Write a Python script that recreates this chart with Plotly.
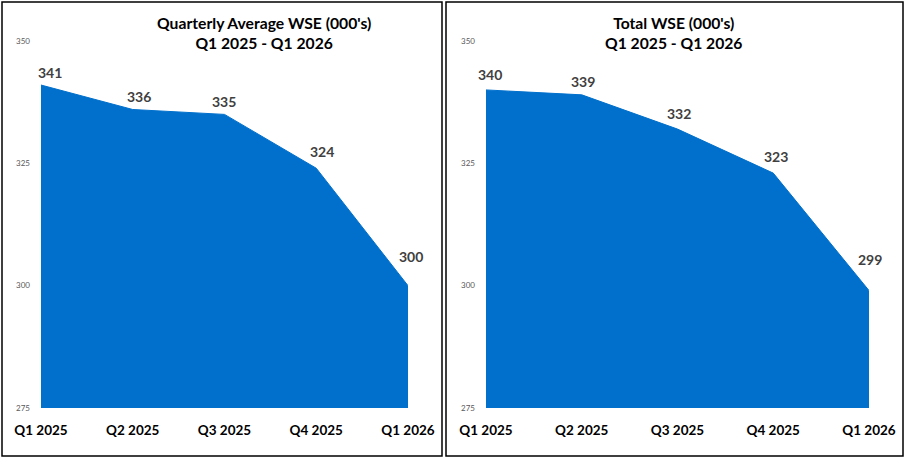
import plotly.graph_objects as go

quarters = ["Q1 2025", "Q2 2025", "Q3 2025", "Q4 2025", "Q1 2026"]
avg_wse = [341, 336, 335, 324, 300]
total_wse = [340, 339, 332, 323, 299]
y_ticks = [275, 300, 325, 350]
title_left = "Quarterly Average WSE (000's)<br>Q1 2025 - Q1 2026"
title_right = "Total WSE (000's)<br>Q1 2025 - Q1 2026"

W, H = 905, 460
FILL = "rgb(0,112,204)"
FONT = "Lato"

def px(x):
    return x / W

def py(y):
    return 1 - y / H

fig = go.Figure()
fig.add_trace(go.Scatter(x=quarters, y=avg_wse, mode="lines", fill="tozeroy",
                         fillcolor=FILL, line=dict(color=FILL, width=1),
                         xaxis="x", yaxis="y", hoverinfo="x+y"))
fig.add_trace(go.Scatter(x=quarters, y=total_wse, mode="lines", fill="tozeroy",
                         fillcolor=FILL, line=dict(color=FILL, width=1),
                         xaxis="x2", yaxis="y2", hoverinfo="x+y"))

# label placement offsets (pixels) matching the reference's label positions
label_offsets = {
    "1": ([9, 6, -1, 6, 3], [13, 13, 13, 17, 29]),
    "2": ([4, 1, 1, 3, 1], [15, 13, 16, 17, 31]),
}
for ys, ax in [(avg_wse, "1"), (total_wse, "2")]:
    xsh, ysh = label_offsets[ax]
    for q, v, dx, dy in zip(quarters, ys, xsh, ysh):
        fig.add_annotation(x=q, y=v, xref="x" if ax == "1" else "x2",
                           yref="y" if ax == "1" else "y2",
                           text=str(v), showarrow=False, yanchor="middle",
                           yshift=dy, xshift=dx,
                           font=dict(family=FONT, size=14, color="#404040", weight="bold"))

for t, cx in [(title_left, 264), (title_right, 673)]:
    fig.add_annotation(x=px(cx), y=py(12), xref="paper", yref="paper",
                       text=t, showarrow=False, xanchor="center", yanchor="top",
                       font=dict(family=FONT, size=15.7, color="black", weight="bold"))

xa = dict(type="category", range=[0, 4], showgrid=False, zeroline=False,
          showline=False, ticks="", ticklabelstandoff=12, automargin=False,
          tickfont=dict(family=FONT, size=13.5, color="black", weight="bold"),
          fixedrange=True)
ya = dict(range=[275, 350], tickvals=y_ticks, showgrid=False, zeroline=False,
          showline=False, ticks="", ticklabelstandoff=10, automargin=False,
          tickfont=dict(family=FONT, size=8, color="#595959"), fixedrange=True)

ydom = [py(408), py(41)]
fig.update_layout(
    width=W, height=H, margin=dict(l=0, r=0, t=0, b=0, autoexpand=False),
    paper_bgcolor="white", plot_bgcolor="white", showlegend=False,
    xaxis=dict(xa, domain=[px(41), px(408)], anchor="y"),
    yaxis=dict(ya, domain=ydom, anchor="x"),
    xaxis2=dict(xa, domain=[px(486), px(869)], anchor="y2"),
    yaxis2=dict(ya, domain=ydom, anchor="x2"),
    shapes=[
        dict(type="rect", xref="paper", yref="paper", x0=px(2), x1=px(442),
             y0=py(456), y1=py(2), line=dict(color="black", width=1.5)),
        dict(type="rect", xref="paper", yref="paper", x0=px(446), x1=px(903),
             y0=py(456), y1=py(2), line=dict(color="black", width=1.5)),
    ],
)

fig.write_html("out.html", config={"displayModeBar": False},
               post_script="document.body.style.margin='0';document.body.style.overflow='hidden';")
